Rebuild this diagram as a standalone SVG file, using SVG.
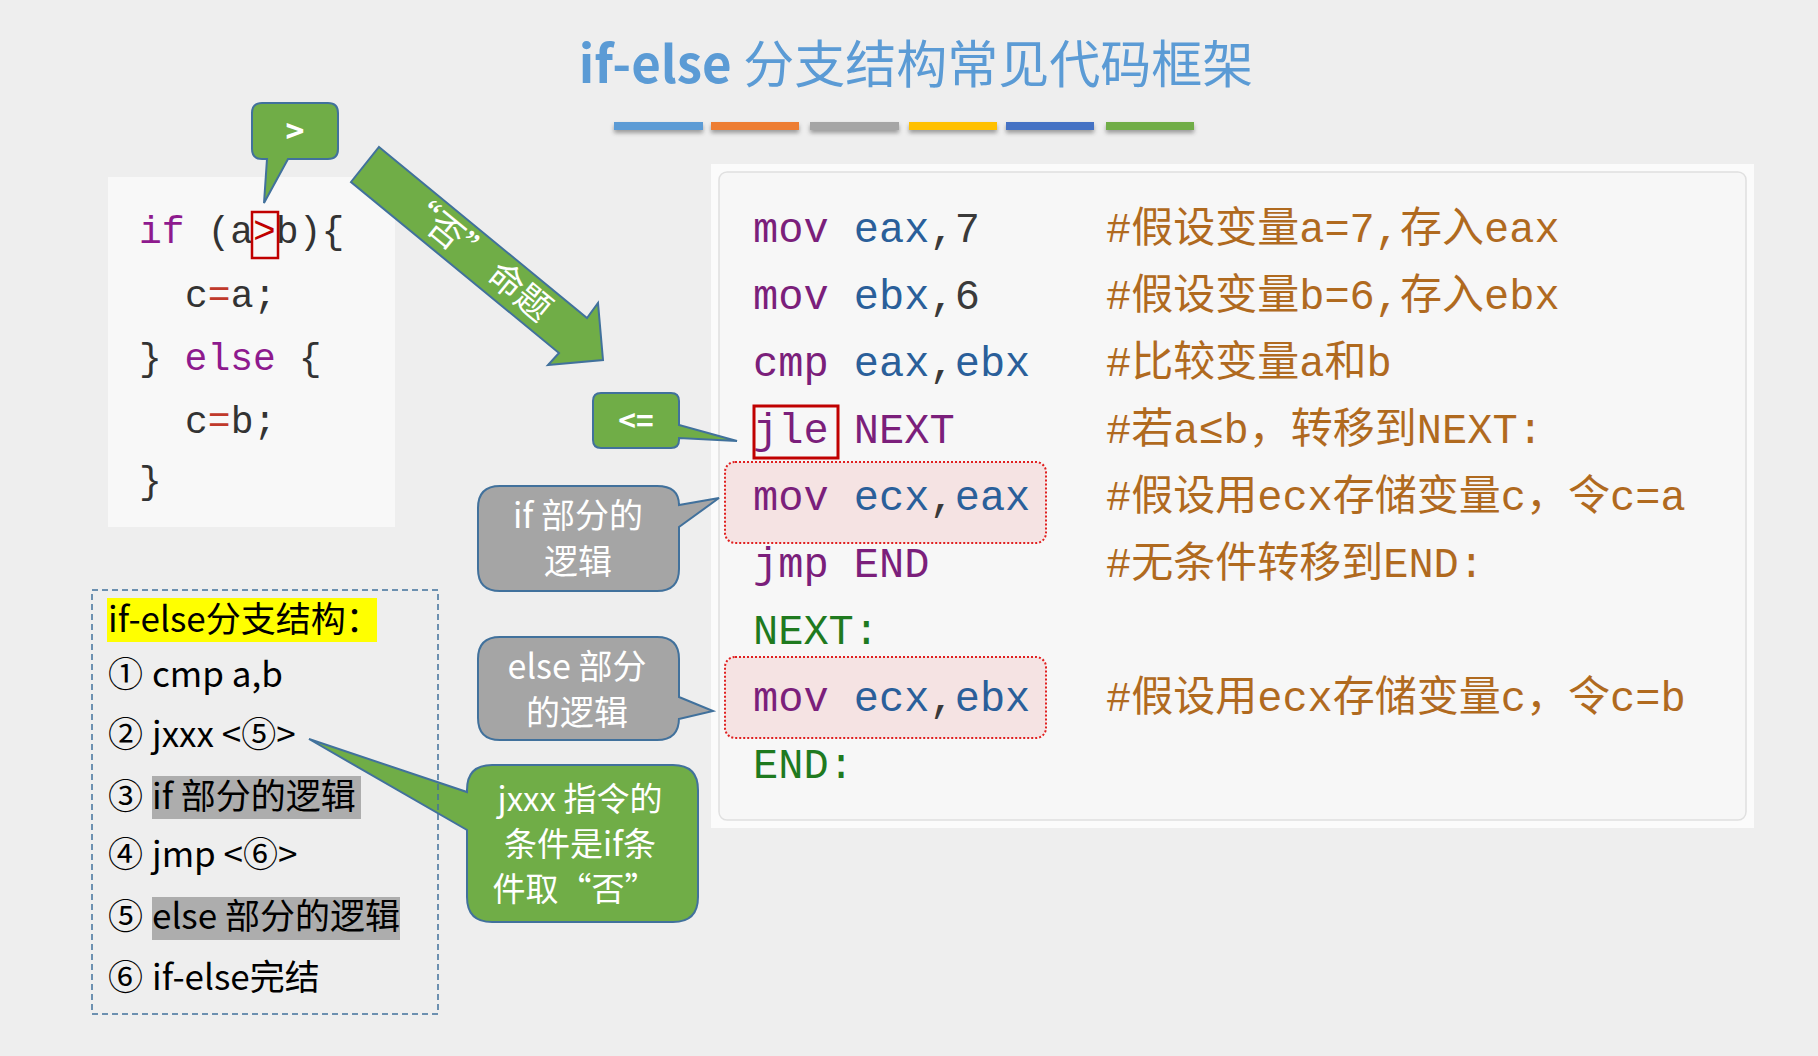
<svg xmlns="http://www.w3.org/2000/svg" width="1818" height="1056" viewBox="0 0 1818 1056">
<defs>
<style>
.cjk{font-family:"Noto Sans CJK SC","Noto Sans",sans-serif}
.lcode{font-family:"Liberation Mono","DejaVu Sans Mono",monospace;font-size:38px;fill:#333}
.kw{fill:#8e1a8e}
.op{fill:#c0392b}
.acode{font-family:"Liberation Mono","Noto Sans CJK SC",monospace;font-size:42px}
.mn{fill:#7b1f7b}
.rg{fill:#2a5f9a}
.nm{fill:#3a3a3a}
.cm{fill:#b06a1f}
.lb{fill:#1f7a1f}
.callout-g{fill:#70AD47;stroke:#41719C;stroke-width:2}
.callout-y{fill:#A5A5A5;stroke:#41719C;stroke-width:2}
.ctext{font-family:"Noto Sans CJK SC","Noto Sans",sans-serif;fill:#fff;text-anchor:middle}
.list{font-family:"Noto Sans CJK SC","Noto Sans",sans-serif;font-size:35px;fill:#000}
.pink{fill:#f5e3e3;stroke:#e02020;stroke-width:2;stroke-dasharray:2 2}
</style>
<filter id="sh" x="-10%" y="-50%" width="120%" height="250%">
<feDropShadow dx="0" dy="3" stdDeviation="2" flood-color="#000" flood-opacity="0.35"/>
</filter>
</defs>
<rect width="1818" height="1056" fill="#eeeeee"/>

<g id="title">
<text x="916" y="83" class="cjk" font-size="51" fill="#5B9BD5" text-anchor="middle"><tspan font-weight="bold">if-else</tspan> 分支结构常见代码框架</text>
<g filter="url(#sh)">
<rect x="614" y="122" width="89" height="8" fill="#5B9BD5"/>
<rect x="711" y="122" width="88" height="8" fill="#ED7D31"/>
<rect x="810" y="122" width="89" height="8" fill="#A5A5A5"/>
<rect x="909" y="122" width="88" height="8" fill="#FFC000"/>
<rect x="1006" y="122" width="88" height="8" fill="#4472C4"/>
<rect x="1106" y="122" width="88" height="8" fill="#70AD47"/>
</g>
</g>

<g id="c-code">
<rect x="108" y="177" width="287" height="350" fill="#f8f8f8"/>
<text class="lcode" x="139" y="243"><tspan class="kw">if</tspan> (a<tspan fill="#c00000">&gt;</tspan>b){</text>
<text class="lcode" x="185" y="307">c<tspan class="op">=</tspan>a;</text>
<text class="lcode" x="139" y="370">} <tspan class="kw">else</tspan> {</text>
<text class="lcode" x="185" y="433">c<tspan class="op">=</tspan>b;</text>
<text class="lcode" x="139" y="493">}</text>
<rect x="252" y="212" width="26" height="46" fill="none" stroke="#c00000" stroke-width="2.5"/>
</g>

<g id="asm-code">
<rect x="711" y="164" width="1043" height="664" fill="#fbfbfb"/>
<rect x="719" y="172" width="1027" height="648" rx="8" fill="#f7f7f7" stroke="#e0e0e0" stroke-width="1.5"/>
<rect class="pink" x="725" y="462" width="321" height="81" rx="10"/>
<rect class="pink" x="725" y="657" width="321" height="81" rx="10"/>
<text class="acode" x="753" y="242"><tspan class="mn">mov</tspan> <tspan class="rg">eax</tspan><tspan class="nm">,7</tspan></text>
<text class="acode" x="753" y="309"><tspan class="mn">mov</tspan> <tspan class="rg">ebx</tspan><tspan class="nm">,6</tspan></text>
<text class="acode" x="753" y="376"><tspan class="mn">cmp</tspan> <tspan class="rg">eax</tspan><tspan class="nm">,</tspan><tspan class="rg">ebx</tspan></text>
<text class="acode" x="753" y="443"><tspan class="mn">jle NEXT</tspan></text>
<text class="acode" x="753" y="510"><tspan class="mn">mov</tspan> <tspan class="rg">ecx</tspan><tspan class="nm">,</tspan><tspan class="rg">eax</tspan></text>
<text class="acode" x="753" y="577"><tspan class="mn">jmp END</tspan></text>
<text class="acode lb" x="753" y="644">NEXT:</text>
<text class="acode" x="753" y="711"><tspan class="mn">mov</tspan> <tspan class="rg">ecx</tspan><tspan class="nm">,</tspan><tspan class="rg">ebx</tspan></text>
<text class="acode lb" x="753" y="778">END:</text>
<text class="acode cm" x="1106" y="242">#假设变量a=7,存入eax</text>
<text class="acode cm" x="1106" y="309">#假设变量b=6,存入ebx</text>
<text class="acode cm" x="1106" y="376">#比较变量a和b</text>
<text class="acode cm" x="1106" y="443">#若a≤b，转移到NEXT:</text>
<text class="acode cm" x="1106" y="510">#假设用ecx存储变量c，令c=a</text>
<text class="acode cm" x="1106" y="577">#无条件转移到END:</text>
<text class="acode cm" x="1106" y="711">#假设用ecx存储变量c，令c=b</text>
<rect x="754" y="406" width="84" height="52" fill="none" stroke="#c00000" stroke-width="3"/>
</g>

<g id="connectors">
<g id="arrow-no">
<polygon points="379,147 587,318 598,303 603,360 548,365 559,353 351,182" fill="#70AD47" stroke="#41719C" stroke-width="2" stroke-linejoin="miter"/>
<text class="ctext" font-size="35" transform="translate(476,256) rotate(39.3)" y="12">“否” 命题</text>
</g>
</g>

<g id="callout-gt">
<path class="callout-g" d="M262,103 H328 Q338,103 338,113 V149 Q338,159 328,159 H288 L264,203 L267,159 H262 Q252,159 252,149 V113 Q252,103 262,103 Z"/>
<text class="ctext" font-size="32" font-weight="bold" x="295" y="143">&gt;</text>
</g>

<g id="callout-le">
<path class="callout-g" d="M601,393 H671 Q679,393 679,401 V425 L737,441 L679,438 V440 Q679,448 671,448 H601 Q593,448 593,440 V401 Q593,393 601,393 Z"/>
<text class="ctext" font-size="30" font-weight="bold" x="636" y="432">&lt;=</text>
</g>

<g id="callout-if">
<path class="callout-y" d="M500,486 H657 Q679,486 679,505 L719,498 L679,527 V569 Q679,591 657,591 H500 Q478,591 478,569 V508 Q478,486 500,486 Z"/>
<text class="ctext" font-size="34"><tspan x="578" y="528">if 部分的</tspan><tspan x="578" y="574">逻辑</tspan></text>
</g>

<g id="callout-else">
<path class="callout-y" d="M500,637 H657 Q679,637 679,659 V697 L713,711 L679,719 V718 Q679,740 657,740 H500 Q478,740 478,718 V659 Q478,637 500,637 Z"/>
<text class="ctext" font-size="34"><tspan x="577" y="679">else 部分</tspan><tspan x="577" y="725">的逻辑</tspan></text>
</g>

<g id="callout-jxxx">
<path class="callout-g" d="M492,765 H673 Q698,765 698,790 V897 Q698,922 673,922 H492 Q467,922 467,897 V830 L309,739 L467,792 V790 Q467,765 492,765 Z"/>
<text class="ctext" font-size="33"><tspan x="580" y="811">jxxx 指令的</tspan><tspan x="580" y="856">条件是if条</tspan><tspan x="575" y="901">件取“否”</tspan></text>
</g>

<g id="summary">
<rect x="92" y="590" width="346" height="424" fill="none" stroke="#41719C" stroke-width="1.5" stroke-dasharray="6 4"/>
<rect x="107" y="598" width="270" height="44" fill="#FFFF00"/>
<rect x="152" y="776" width="209" height="43" fill="#adadad"/>
<rect x="152" y="897" width="248" height="43" fill="#adadad"/>
<text class="list" x="108" y="632">if-else分支结构：</text>
<text class="list" x="108" y="687">① <tspan x="152">cmp a,b</tspan></text>
<text class="list" x="108" y="747">② <tspan x="152">jxxx &lt;⑤&gt;</tspan></text>
<text class="list" x="108" y="809">③ <tspan x="152">if 部分的逻辑</tspan></text>
<text class="list" x="108" y="867">④ <tspan x="152">jmp &lt;⑥&gt;</tspan></text>
<text class="list" x="108" y="929">⑤ <tspan x="152">else 部分的逻辑</tspan></text>
<text class="list" x="108" y="990">⑥ <tspan x="152">if-else完结</tspan></text>
</g>
</svg>
